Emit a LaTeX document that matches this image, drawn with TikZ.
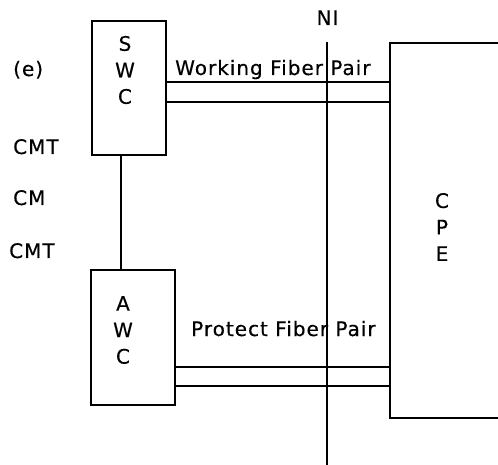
\documentclass[tikz,border=0pt]{standalone}
\usepackage{fontspec}
\setmainfont{DejaVu Sans}[LetterSpace=5,FakeBold=0.4]
\begin{document}
\begin{tikzpicture}[x=1pt,y=-1pt,
  box/.style={draw,line width=2pt,inner sep=0pt,minimum width=#1},
  lab/.style={inner sep=0pt,anchor=base,font=\fontsize{20}{26.5}\selectfont,align=center},
  wire/.style={line width=2pt}]
\useasboundingbox (0,0) rectangle (498,465);
\clip (0,0) rectangle (498,465);
% boxes
\node[box=74pt,minimum height=134pt] (SWC) at (129,88) {};
\node[box=84pt,minimum height=135pt] (AWC) at (133,337.5) {};
\node[box=130pt,minimum height=375pt,anchor=north west] (CPE) at (389,42) {};
% letters
\node[lab,anchor=center] (swct) at (125,70) {S\\W\\C};
\node[lab,anchor=center] (awct) at (123,330) {A\\W\\C};
\node[lab,anchor=center] (cpet) at (442,227) {C\\P\\E};
% side labels
\node[lab,anchor=base west] (e) at (13,76) {(e)};
\node[lab,anchor=base west] (cmt1) at (13,154) {CMT};
\node[lab,anchor=base west] (cm) at (13,205) {CM};
\node[lab,anchor=base west] (cmt2) at (9,258) {CMT};
\node[lab] (ni) at (327.5,25) {NI};
\node[lab,anchor=base west] (wfp) at (175,75) {Working Fiber Pair};
\node[lab,anchor=base west] (pfp) at (191,336) {Protect Fiber Pair};
% NI line
\coordinate (nitop) at (327,42);
\coordinate (nibot) at (327,465);
\draw[wire] (nitop) -- (nibot);
% SWC - AWC
\draw[wire] (SWC.south -| 121,0) -- (AWC.north -| 121,0);
% working pair
\coordinate (w1) at (0,82);
\coordinate (w2) at (0,102);
\draw[wire] (SWC.east |- w1) -- (CPE.west |- w1);
\draw[wire] (SWC.east |- w2) -- (CPE.west |- w2);
% protect pair
\coordinate (p1) at (0,367);
\coordinate (p2) at (0,386);
\draw[wire] (AWC.east |- p1) -- (CPE.west |- p1);
\draw[wire] (AWC.east |- p2) -- (CPE.west |- p2);
\end{tikzpicture}
\end{document}
